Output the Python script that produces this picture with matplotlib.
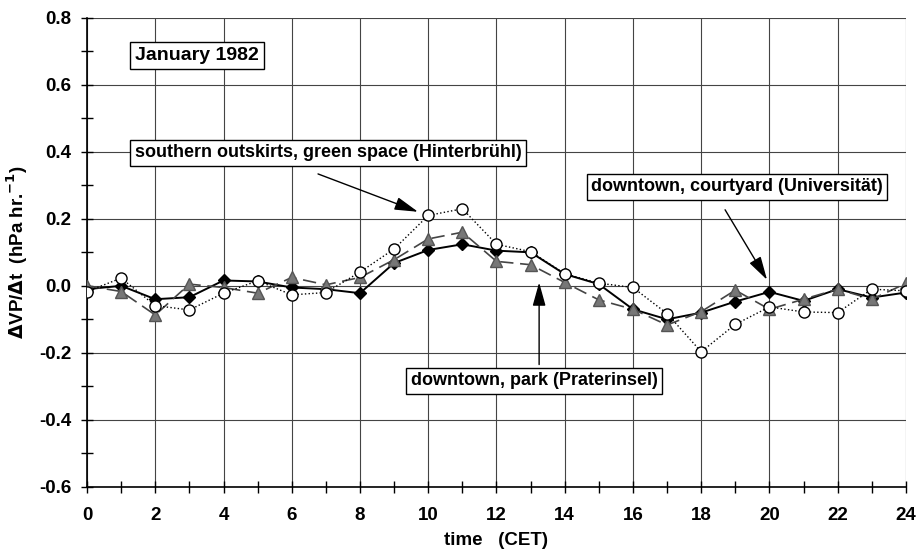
import matplotlib.pyplot as plt
from matplotlib.ticker import MultipleLocator

plt.rcParams['font.family'] = ['Liberation Sans', 'DejaVu Sans']
plt.rcParams['font.weight'] = 'bold'

hours = list(range(25))

# downtown, courtyard (Universitaet) - solid, black diamonds
courtyard = [-0.01, 0.0, -0.04, -0.034, 0.016, 0.013, -0.005, -0.01, -0.022,
             0.068, 0.107, 0.124, 0.105, 0.1, 0.035, 0.005, -0.07, -0.1,
             -0.08, -0.047, -0.018, -0.045, -0.01, -0.035, -0.02]
# downtown, park (Praterinsel) - dashed, grey triangles
park = [0.0, -0.017, -0.087, 0.005, -0.005, -0.022, 0.025, 0.003, 0.025,
        0.078, 0.14, 0.16, 0.073, 0.063, 0.01, -0.042, -0.07, -0.117,
        -0.077, -0.013, -0.07, -0.04, -0.01, -0.04, 0.007]
# southern outskirts, green space (Hinterbruehl) - dotted, open circles
outskirts = [-0.017, 0.023, -0.059, -0.072, -0.022, 0.015, -0.027, -0.02, 0.041,
             0.11, 0.21, 0.23, 0.124, 0.102, 0.036, 0.008, -0.005, -0.083,
             -0.197, -0.115, -0.063, -0.078, -0.08, -0.01, -0.015]

fig = plt.figure(figsize=(9.16, 5.57), dpi=100)
ax = fig.add_axes([0.095, 0.126, 0.894, 0.842])

ax.plot(hours, courtyard, '-', color='black', lw=1.4, marker='D', ms=6.5,
        mfc='black', mec='black', zorder=3)
ax.plot(hours, park, color='#444444', lw=1.2, dashes=(8, 4), marker='^', ms=8.5,
        mfc='#777777', mec='#555555', zorder=4)
ax.plot(hours, outskirts, ':', color='black', lw=1.0, marker='o', ms=8,
        mfc='white', mec='black', mew=1.0, zorder=5)

ax.set_xlim(0, 24)
ax.set_ylim(-0.6, 0.8)
ax.xaxis.set_major_locator(MultipleLocator(2))
ax.xaxis.set_minor_locator(MultipleLocator(1))
ax.yaxis.set_major_locator(MultipleLocator(0.2))
ax.yaxis.set_minor_locator(MultipleLocator(0.1))
ax.yaxis.set_major_formatter(plt.FuncFormatter(lambda v, p: f"{v:.1f}"))
ax.tick_params(which='both', direction='inout', width=1, length=9, labelsize=13.5)
ax.tick_params(axis='x', pad=10)
ax.tick_params(axis='y', pad=7)
ax.grid(True, which='major', color='#444444', lw=0.8)

for s in ['top', 'right']:
    ax.spines[s].set_visible(False)
for s in ['left', 'bottom']:
    ax.spines[s].set_linewidth(1.2)

ax.set_xlabel('time   (CET)', fontsize=13.5, fontweight='bold', labelpad=6)
ax.set_ylabel(r'$\Delta$VP/$\Delta$t  (hPa hr.$^{\mathbf{\minus 1}}$)', fontsize=13.5,
              fontweight='bold', labelpad=6)

box = dict(boxstyle='square,pad=0.25', facecolor='white', edgecolor='black', lw=1)
ax.text(3.22, 0.687, 'January 1982', fontsize=14, ha='center', va='center',
        bbox=box, zorder=6)

arrow = dict(arrowstyle='-|>,head_length=0.9,head_width=0.25', color='black',
             lw=1, mutation_scale=16, shrinkA=0, shrinkB=0)

ax.annotate('', xy=(9.7, 0.221), xytext=(6.77, 0.334), arrowprops=arrow, zorder=6)
ax.text(7.06, 0.397, 'southern outskirts, green space (Hinterbrühl)', fontsize=13,
        ha='center', va='center', bbox=box, zorder=6)

ax.annotate('', xy=(19.93, 0.018), xytext=(18.7, 0.227), arrowprops=arrow, zorder=6)
ax.text(19.05, 0.296, 'downtown, courtyard (Universität)', fontsize=13,
        ha='center', va='center', bbox=box, zorder=6)

ax.annotate('', xy=(13.25, 0.01), xytext=(13.25, -0.235), arrowprops=arrow, zorder=6)
ax.text(13.1, -0.284, 'downtown, park (Praterinsel)', fontsize=13,
        ha='center', va='center', bbox=box, zorder=6)

fig.savefig('out.png', dpi=100, facecolor='white')
